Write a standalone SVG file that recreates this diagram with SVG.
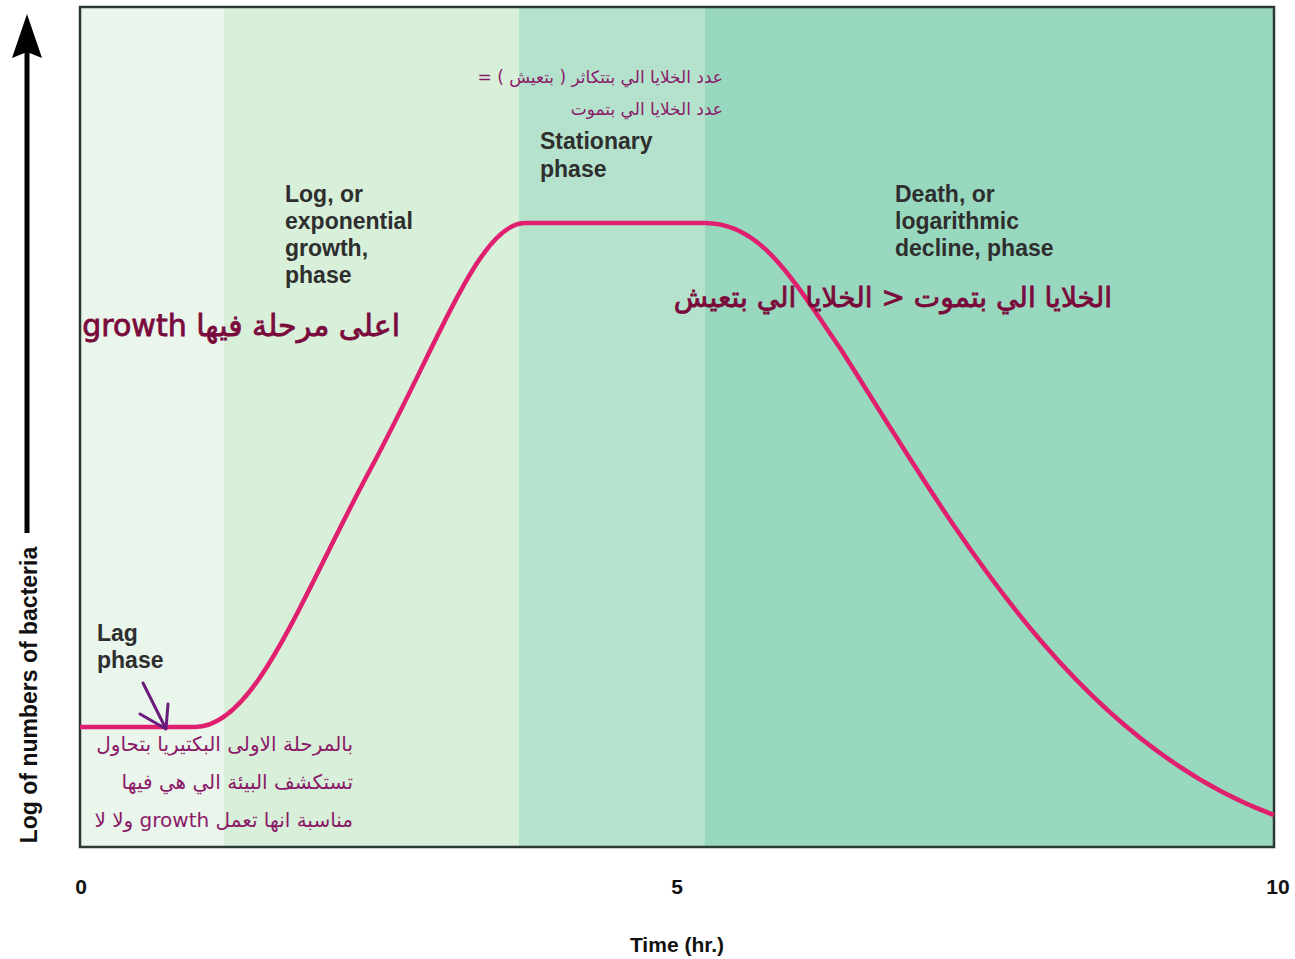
<svg xmlns="http://www.w3.org/2000/svg" width="1295" height="959" viewBox="0 0 1295 959">
<style>
.lbl{font-family:"Liberation Sans",Arial,sans-serif;font-weight:bold;font-size:23px;fill:#2e2e2e}
.ax{font-family:"Liberation Sans",Arial,sans-serif;font-weight:bold;font-size:21px;fill:#111}
.ar{font-family:"DejaVu Sans","Noto Sans",sans-serif;fill:#8a1a68;direction:rtl}
.hw{font-family:"DejaVu Sans","Noto Sans",sans-serif;fill:#7a0a3c;stroke:#7a0a3c;stroke-width:0.8;direction:rtl}
</style>
<rect width="1295" height="959" fill="#fff"/>
<g id="bands">
<rect x="80" y="7" width="144" height="840" fill="#eaf5ec"/>
<rect x="224" y="7" width="295" height="840" fill="#d8efd9"/>
<rect x="519" y="7" width="186" height="840" fill="#b5e2cc"/>
<rect x="705" y="7" width="569" height="840" fill="#98d8be"/>
<rect x="80" y="7" width="1194" height="840" fill="none" stroke="#2a3a32" stroke-width="2.5"/>
</g>
<g id="curve">
<path d="M80,727 L195,727 C255,727 300,600 370,470 C440,340 480,223 525,223 L705,223 C760,223 790,275 840,348 C950,520 1070,740 1274,815" fill="none" stroke="#e0206e" stroke-width="4.5" stroke-linejoin="round"/>
</g>
<g id="yaxis">
<line x1="27" y1="533" x2="27" y2="50" stroke="#000" stroke-width="5"/>
<path d="M27,14 L42,58 L27,52 L12,58 z" fill="#000"/>
<text class="ax" style="font-size:23px" transform="translate(37,695) rotate(-90)" text-anchor="middle">Log of numbers of bacteria</text>
</g>
<g id="xaxis">
<text class="ax" x="81" y="894" text-anchor="middle">0</text>
<text class="ax" x="677" y="894" text-anchor="middle">5</text>
<text class="ax" x="1278" y="894" text-anchor="middle">10</text>
<text class="ax" x="677" y="952" text-anchor="middle">Time (hr.)</text>
</g>
<g id="lag">
<text class="lbl" x="97" y="641">Lag</text>
<text class="lbl" x="97" y="668">phase</text>
</g>
<g id="log">
<text class="lbl" x="285" y="202">Log, or</text>
<text class="lbl" x="285" y="229">exponential</text>
<text class="lbl" x="285" y="256">growth,</text>
<text class="lbl" x="285" y="283">phase</text>
</g>
<g id="stationary">
<text class="lbl" x="540" y="149">Stationary</text>
<text class="lbl" x="540" y="177">phase</text>
</g>
<g id="death">
<text class="lbl" x="895" y="202">Death, or</text>
<text class="lbl" x="895" y="229">logarithmic</text>
<text class="lbl" x="895" y="256">decline, phase</text>
</g>
<g id="note-stationary">
<text class="ar" x="723" y="83" font-size="17" text-anchor="start">عدد الخلايا الي بتتكاثر ( بتعيش ) =</text>
<text class="ar" x="723" y="115" font-size="17" text-anchor="start">عدد الخلايا الي بتموت</text>
</g>
<g id="note-lag">
<text class="ar" x="353" y="751" font-size="20" text-anchor="start">بالمرحلة الاولى البكتيريا بتحاول</text>
<text class="ar" x="353" y="789" font-size="20" text-anchor="start">تستكشف البيئة الي هي فيها</text>
<text class="ar" x="353" y="827" font-size="20" text-anchor="start">مناسبة انها تعمل growth ولا لا</text>
</g>
<g id="note-log">
<text class="hw" x="400" y="336" font-size="30" text-anchor="start">اعلى مرحلة فيها growth</text>
</g>
<g id="note-death">
<text class="hw" x="1112" y="307" font-size="28" text-anchor="start">الخلايا الي بتموت &lt; الخلايا الي بتعيش</text>
</g>
<g id="connectors">
<path d="M143,683 L166,729 M140,714 L166,729 L168,704" fill="none" stroke="#6a1a7a" stroke-width="3" stroke-linecap="round" stroke-linejoin="round"/>
</g>
</svg>
